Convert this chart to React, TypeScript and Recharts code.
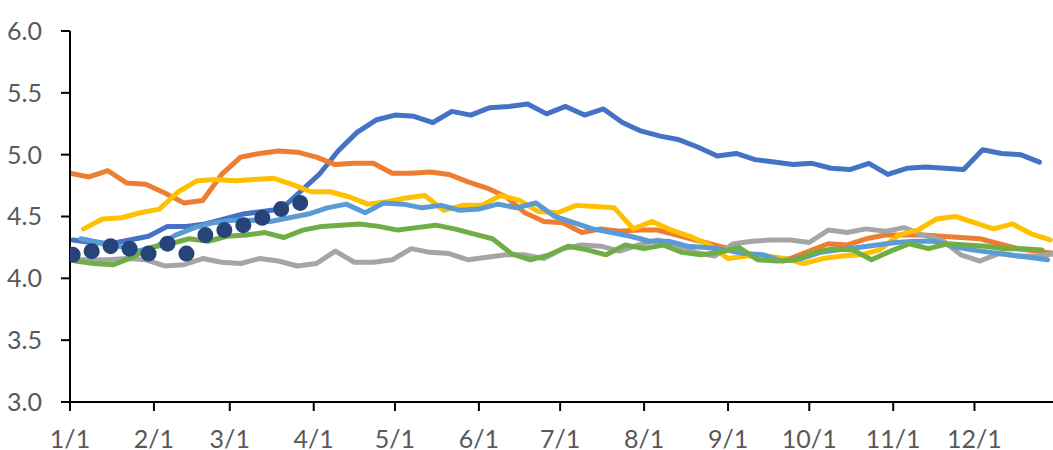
import React from 'react';
import { LineChart, Line, XAxis, YAxis } from 'recharts';

// Day-of-year positions of the month-start ticks and their labels
const monthTickDays = [0, 31, 59, 90, 120, 151, 181, 212, 243, 273, 304, 334];
const monthLabels = ['1/1', '2/1', '3/1', '4/1', '5/1', '6/1', '7/1', '8/1', '9/1', '10/1', '11/1', '12/1'];
const yTicks = [3.0, 3.5, 4.0, 4.5, 5.0, 5.5, 6.0];

// Weekly series: first day-of-year and weekly values
const blueStart = 1;
const blueValues = [4.31, 4.29, 4.28, 4.31, 4.34, 4.42, 4.42, 4.44, 4.48, 4.52, 4.54, 4.56, 4.70, 4.84, 5.03, 5.18, 5.28, 5.32, 5.31, 5.26, 5.35, 5.32, 5.38, 5.39, 5.41, 5.33, 5.39, 5.32, 5.37, 5.26, 5.19, 5.15, 5.12, 5.06, 4.99, 5.01, 4.96, 4.94, 4.92, 4.93, 4.89, 4.88, 4.93, 4.84, 4.89, 4.90, 4.89, 4.88, 5.04, 5.01, 5.00, 4.94];

const orangeStart = 0;
const orangeValues = [4.85, 4.82, 4.87, 4.77, 4.76, 4.69, 4.61, 4.63, 4.84, 4.98, 5.01, 5.03, 5.02, 4.98, 4.92, 4.93, 4.93, 4.85, 4.85, 4.86, 4.84, 4.78, 4.73, 4.66, 4.53, 4.46, 4.45, 4.37, 4.40, 4.38, 4.39, 4.39, 4.35, 4.31, 4.27, 4.23, 4.18, 4.15, 4.16, 4.22, 4.28, 4.27, 4.32, 4.35, 4.35, 4.35, 4.34, 4.33, 4.32, 4.28, 4.24, 4.22, 4.20];

const grayStart = 0;
const grayValues = [4.15, 4.15, 4.15, 4.16, 4.15, 4.10, 4.11, 4.16, 4.13, 4.12, 4.16, 4.14, 4.10, 4.12, 4.22, 4.13, 4.13, 4.15, 4.24, 4.21, 4.20, 4.15, 4.17, 4.19, 4.19, 4.16, 4.24, 4.27, 4.26, 4.22, 4.27, 4.31, 4.27, 4.21, 4.18, 4.28, 4.30, 4.31, 4.31, 4.29, 4.39, 4.37, 4.40, 4.38, 4.41, 4.35, 4.31, 4.19, 4.14, 4.20, 4.18, 4.18, 4.20];

const yellowStart = 5;
const yellowValues = [4.40, 4.48, 4.49, 4.53, 4.56, 4.70, 4.79, 4.80, 4.79, 4.80, 4.81, 4.76, 4.70, 4.70, 4.66, 4.60, 4.62, 4.65, 4.67, 4.55, 4.59, 4.59, 4.67, 4.63, 4.54, 4.53, 4.59, 4.58, 4.57, 4.40, 4.46, 4.39, 4.34, 4.27, 4.16, 4.18, 4.18, 4.16, 4.12, 4.16, 4.18, 4.19, 4.23, 4.35, 4.39, 4.48, 4.50, 4.45, 4.40, 4.44, 4.36, 4.31];

const lightBlueStart = 4;
const lightBlueValues = [4.32, 4.29, 4.26, 4.22, 4.26, 4.35, 4.41, 4.45, 4.47, 4.47, 4.46, 4.49, 4.52, 4.57, 4.60, 4.53, 4.61, 4.60, 4.57, 4.59, 4.55, 4.56, 4.60, 4.57, 4.61, 4.50, 4.45, 4.40, 4.37, 4.34, 4.30, 4.30, 4.26, 4.25, 4.23, 4.20, 4.19, 4.14, 4.16, 4.21, 4.23, 4.25, 4.27, 4.29, 4.30, 4.30, 4.26, 4.23, 4.21, 4.19, 4.17, 4.15];

const greenStart = 2;
const greenValues = [4.14, 4.12, 4.11, 4.17, 4.25, 4.28, 4.32, 4.30, 4.34, 4.35, 4.37, 4.33, 4.39, 4.42, 4.43, 4.44, 4.42, 4.39, 4.41, 4.43, 4.40, 4.36, 4.32, 4.20, 4.15, 4.19, 4.26, 4.23, 4.19, 4.27, 4.24, 4.27, 4.21, 4.19, 4.21, 4.25, 4.15, 4.14, 4.15, 4.21, 4.24, 4.23, 4.15, 4.22, 4.28, 4.24, 4.28, 4.27, 4.26, 4.24, 4.24, 4.23];

const currentStart = 1;
const currentValues = [4.19, 4.22, 4.26, 4.24, 4.20, 4.28, 4.20, 4.35, 4.39, 4.43, 4.49, 4.56, 4.61];

const WEEK = 7;
function toPoints(start: number, values: number[]) {
  return values.map((v, i) => ({ day: start + WEEK * i, value: v }));
}

const series = [
  { name: 'blue', color: '#4472C4', data: toPoints(blueStart, blueValues) },
  { name: 'orange', color: '#ED7D31', data: toPoints(orangeStart, orangeValues) },
  { name: 'gray', color: '#A5A5A5', data: toPoints(grayStart, grayValues) },
  { name: 'yellow', color: '#FFC000', data: toPoints(yellowStart, yellowValues) },
  { name: 'lightblue', color: '#5B9BD5', data: toPoints(lightBlueStart, lightBlueValues) },
  { name: 'green', color: '#70AD47', data: toPoints(greenStart, greenValues) },
];
const currentData = toPoints(currentStart, currentValues);

const tickStyle = { fill: '#595959', fontSize: 25, fontFamily: 'Lato, "Open Sans", sans-serif' };

export default function App() {
  return (
    <div style={{ position: 'absolute', left: 0, top: 0, width: 1053, height: 450, background: '#fff' }}>
      <LineChart width={1053} height={450} margin={{ top: 31, right: 0, bottom: 0, left: 0 }}>
        <XAxis
          dataKey="day"
          type="number"
          domain={[0, 363]}
          allowDataOverflow
          ticks={monthTickDays}
          tickFormatter={(v: number) => monthLabels[monthTickDays.indexOf(v)]}
          interval={0}
          height={48}
          tickSize={9}
          tickMargin={19}
          axisLine={{ stroke: '#000', strokeWidth: 2 }}
          tickLine={{ stroke: '#000', strokeWidth: 2 }}
          tick={tickStyle}
        />
        <YAxis
          type="number"
          domain={[3, 6]}
          allowDataOverflow
          ticks={yTicks}
          tickFormatter={(v: number) => v.toFixed(1)}
          width={70}
          tickSize={9}
          tickMargin={19}
          axisLine={{ stroke: '#000', strokeWidth: 2 }}
          tickLine={{ stroke: '#000', strokeWidth: 2 }}
          tick={tickStyle}
        />
        {series.map((s) => (
          <Line
            key={s.name}
            data={s.data}
            dataKey="value"
            type="linear"
            stroke={s.color}
            strokeWidth={5}
            strokeLinecap="round"
            strokeLinejoin="round"
            dot={false}
            activeDot={false}
            isAnimationActive={false}
          />
        ))}
        <Line
          data={currentData}
          dataKey="value"
          stroke="none"
          dot={{ r: 8, fill: '#264478', stroke: '#264478', strokeWidth: 0 }}
          activeDot={false}
          isAnimationActive={false}
        />
      </LineChart>
    </div>
  );
}
